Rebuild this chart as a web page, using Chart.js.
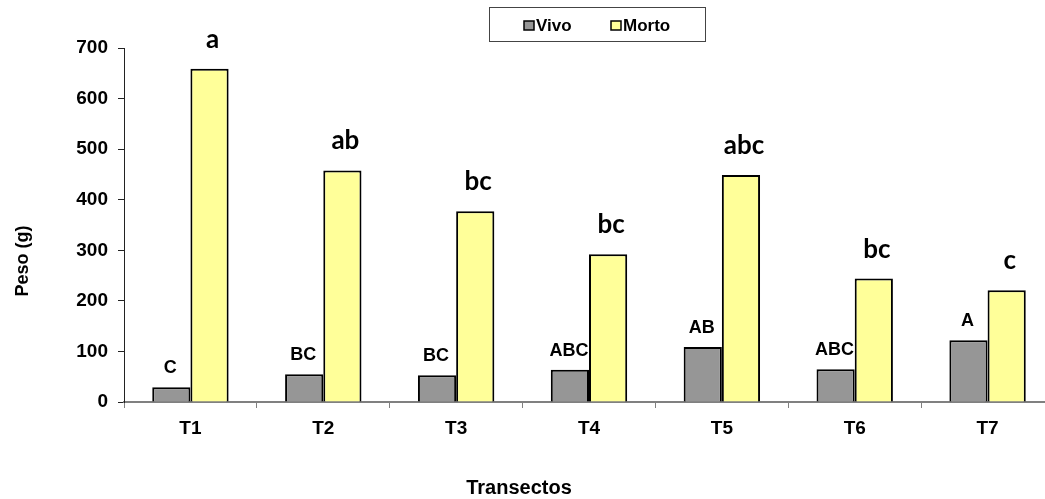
<!DOCTYPE html>
<html>
<head>
<meta charset="utf-8">
<script src="https://cdn.jsdelivr.net/npm/chart.js@4/dist/chart.umd.min.js"></script>
<style>
  html, body { margin: 0; padding: 0; background: #fff; overflow: hidden; }
  #wrap { width: 1054px; height: 499px; }
</style>
</head>
<body>
<div id="wrap"><canvas id="grafico" width="1054" height="499"></canvas></div>
<script>
// dados
const transectos = ["T1", "T2", "T3", "T4", "T5", "T6", "T7"];
const vivo = [29, 55, 53, 64, 109, 65, 122];
const morto = [659, 458, 377, 292, 449, 244, 221];
// letras de significância
const letrasVivo = ["C", "BC", "BC", "ABC", "AB", "ABC", "A"];
const letrasMorto = ["a", "ab", "bc", "bc", "abc", "bc", "c"];
const ticksY = [0, 100, 200, 300, 400, 500, 600, 700];

const fonteArial = "'Liberation Sans', Arial, sans-serif";

// letras acima das barras
const pluginLetras = {
    id: 'letras',
    afterDatasetsDraw(chart) {
        const ctx = chart.ctx;
        ctx.save();
        ctx.fillStyle = '#000';
        ctx.textAlign = 'center';
        ctx.textBaseline = 'alphabetic';
        chart.getDatasetMeta(0).data.forEach((bar, i) => {
            ctx.font = "bold 18px " + fonteArial;
            ctx.fillText(letrasVivo[i], bar.x - 1, bar.y - 14);
        });
        chart.getDatasetMeta(1).data.forEach((bar, i) => {
            ctx.font = "bold 26px Lato, 'Open Sans', sans-serif";
            ctx.fillText(letrasMorto[i], bar.x + 3, bar.y - 21);
        });
        ctx.restore();
    }
};

// legenda com moldura e títulos dos eixos
const pluginLegenda = {
    id: 'legendaCaixa',
    afterDraw(chart) {
        const ctx = chart.ctx;
        ctx.save();
        ctx.strokeStyle = '#444';
        ctx.lineWidth = 1;
        ctx.strokeRect(489.5, 7.5, 216, 34);
        const itens = [
            { texto: "Vivo", cor: '#969696', x: 524 },
            { texto: "Morto", cor: '#FFFF99', x: 611 }
        ];
        ctx.font = "bold 17px " + fonteArial;
        ctx.textBaseline = 'middle';
        ctx.textAlign = 'left';
        itens.forEach(it => {
            ctx.fillStyle = it.cor;
            ctx.fillRect(it.x, 21, 10, 9);
            ctx.strokeStyle = '#000';
            ctx.lineWidth = 1.5;
            ctx.strokeRect(it.x, 21, 10, 9);
            ctx.fillStyle = '#000';
            ctx.fillText(it.texto, it.x + 12, 26);
        });

        // títulos
        ctx.fillStyle = '#000';
        ctx.textAlign = 'center';
        ctx.textBaseline = 'middle';
        ctx.font = "bold 20px " + fonteArial;
        ctx.fillText("Transectos", 519, 488);
        ctx.translate(23, 261);
        ctx.rotate(-Math.PI / 2);
        ctx.font = "bold 18px " + fonteArial;
        ctx.fillText("Peso (g)", 0, 0);
        ctx.restore();
    }
};

new Chart(document.getElementById("grafico").getContext("2d"), {
    type: 'bar',
    data: {
        labels: transectos,
        datasets: [{
            label: "Vivo",
            data: vivo,
            backgroundColor: '#969696',
            borderColor: '#000',
            borderWidth: 2,
            categoryPercentage: 0.575,
            barPercentage: 1
        }, {
            label: "Morto",
            data: morto,
            backgroundColor: '#FFFF99',
            borderColor: '#000',
            borderWidth: 2,
            categoryPercentage: 0.575,
            barPercentage: 1
        }]
    },
    options: {
        responsive: false,
        animation: false,
        layout: { padding: { top: 48, left: 0, right: 0, bottom: 0 } },
        plugins: {
            legend: { display: false },
            tooltip: { enabled: false }
        },
        scales: {
            x: {
                grid: { display: true, drawOnChartArea: false, drawTicks: true, tickLength: 6, color: '#808080' },
                border: { color: '#808080', width: 2 },
                ticks: { color: '#000', font: { family: fonteArial, size: 19, weight: 'bold' }, padding: 9 },
                afterFit(axis) { axis.height = 97; }
            },
            y: {
                min: 0, max: 700,
                afterBuildTicks(axis) { axis.ticks = ticksY.map(v => ({ value: v })); },
                grid: { display: true, drawOnChartArea: false, drawTicks: true, tickLength: 6, color: '#222' },
                border: { color: '#222', width: 1 },
                ticks: { color: '#000', font: { family: fonteArial, size: 19, weight: 'bold' }, padding: 10 },
                afterFit(axis) { axis.width = 124; }
            }
        }
    },
    plugins: [pluginLetras, pluginLegenda]
});
</script>
</body>
</html>
